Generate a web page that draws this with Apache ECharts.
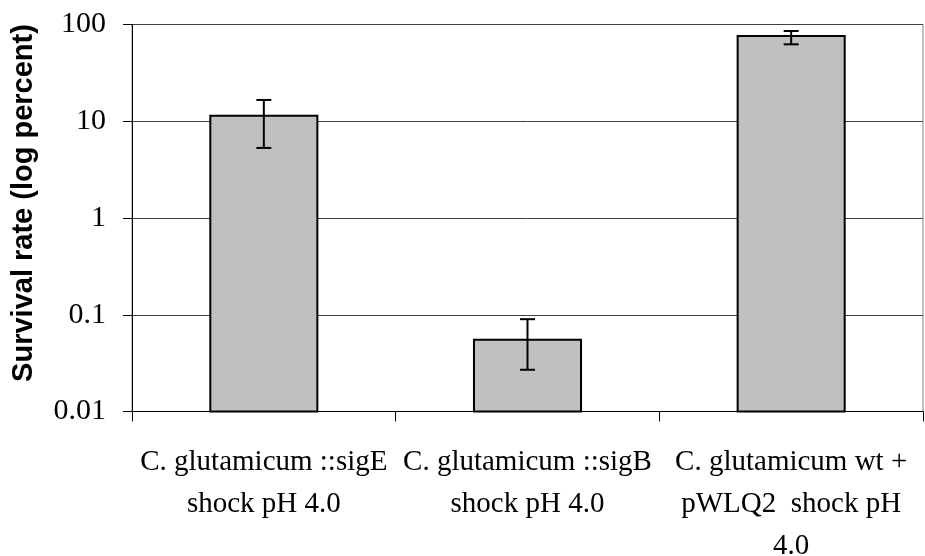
<!DOCTYPE html>
<html>
<head>
<meta charset="utf-8">
<script src="https://cdn.jsdelivr.net/npm/echarts@6/dist/echarts.min.js"></script>
<style>html,body{margin:0;padding:0;background:#fff}#c{width:925px;height:556px}</style>
</head>
<body>
<div id="c"></div>
<script>
var categories = [
  "C. glutamicum ::sigE\nshock pH 4.0",
  "C. glutamicum ::sigB\nshock pH 4.0",
  "C. glutamicum wt +\npWLQ2  shock pH\n4.0"
];
var survival = [11.4, 0.055, 76];
var errUpper = [16.6, 0.090, 85.7];
var errLower = [5.3, 0.027, 62.4];
var yTickLabels = ["0.01", "0.1", "1", "10", "100"];
var yAxisTitle = "Survival rate (log percent)";
var yMin = 0.01, yMax = 100;

var chart = echarts.init(document.getElementById('c'), null, {renderer: 'canvas'});
var barData = survival.map(function (v, i) { return [i, v]; });
var errData = survival.map(function (v, i) { return [i, errLower[i], errUpper[i]]; });

chart.setOption({
  animation: false,
  grid: {left: 132, right: 2, top: 24.5, bottom: 144.5, show: true, borderColor: '#808080', borderWidth: 1, containLabel: false, outerBoundsMode: 'none'},
  xAxis: {
    type: 'category',
    data: categories,
    axisLine: {lineStyle: {color: '#000', width: 1}},
    axisTick: {show: true, length: 10, lineStyle: {color: '#000'}},
    axisLabel: {interval: 0, margin: 30, fontFamily: 'Liberation Serif', fontSize: 29, color: '#000', lineHeight: 42},
    splitLine: {show: false}
  },
  yAxis: {
    type: 'log',
    logBase: 10,
    min: yMin,
    max: yMax,
    name: yAxisTitle,
    nameLocation: 'middle',
    nameRotate: 90,
    nameGap: 94,
    nameTextStyle: {fontFamily: 'Liberation Sans', fontWeight: 'bold', fontSize: 29, color: '#000', padding: [0, 0, 0, 30]},
    axisLine: {show: true, lineStyle: {color: '#000', width: 1}},
    axisTick: {show: true, length: 9, lineStyle: {color: '#000'}},
    axisLabel: {
      margin: 26, fontFamily: 'Liberation Serif', fontSize: 30, color: '#000',
      formatter: function (v) {
        var k = Math.round(Math.log10(v)) + 2;
        return yTickLabels[k] !== undefined ? yTickLabels[k] : '';
      }
    },
    splitLine: {show: true, lineStyle: {color: '#404040', width: 1}}
  },
  series: [
    {
      type: 'custom',
      data: barData,
      z: 5,
      renderItem: function (params, api) {
        var x = api.value(0);
        var top = api.coord([x, api.value(1)]);
        var base = api.coord([x, yMin]);
        var w = api.size([1, 0])[0] * 0.406;
        return {
          type: 'rect',
          shape: {x: top[0] - w / 2, y: top[1], width: w, height: base[1] - top[1]},
          style: {fill: '#c0c0c0', stroke: '#000', lineWidth: 2}
        };
      }
    },
    {
      type: 'custom',
      data: errData,
      z: 10,
      renderItem: function (params, api) {
        var x = api.value(0);
        var lo = api.coord([x, api.value(1)]);
        var hi = api.coord([x, api.value(2)]);
        var hw = 7.5;
        var st = {stroke: '#000', lineWidth: 2};
        return {
          type: 'group',
          children: [
            {type: 'line', shape: {x1: lo[0], y1: lo[1], x2: hi[0], y2: hi[1]}, style: st},
            {type: 'line', shape: {x1: hi[0] - hw, y1: hi[1], x2: hi[0] + hw, y2: hi[1]}, style: st},
            {type: 'line', shape: {x1: lo[0] - hw, y1: lo[1], x2: lo[0] + hw, y2: lo[1]}, style: st}
          ]
        };
      }
    }
  ]
});
</script>
</body>
</html>
